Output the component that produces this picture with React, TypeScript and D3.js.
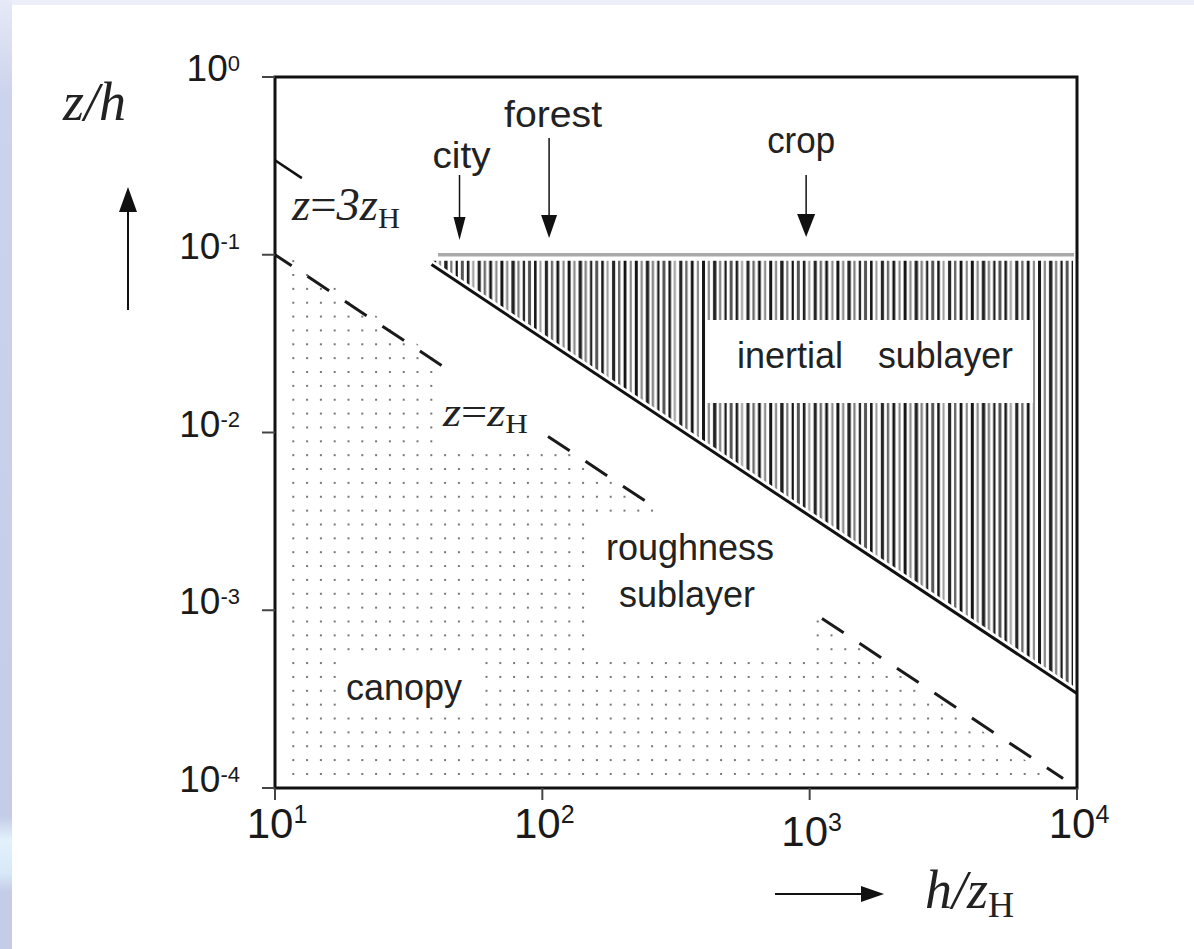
import React from 'react';
import * as d3 from 'd3';

// axes
const xDomain = [10, 10000];
const yDomain = [1, 0.0001];
const xTickValues = [10, 100, 1000, 10000];
const xTickExp = ['1', '2', '3', '4'];
const yTickValues = [1, 0.1, 0.01, 0.001, 0.0001];
const yTickExp = ['0', '-1', '-2', '-3', '-4'];

// surface types marked at the top (h/zH)
const markerNames = ['city', 'forest', 'crop'];
const markerValues = [49, 106, 970];

// z = 3 zH (solid) and z = zH (dashed, broken behind labels), read as [h/zH, z/h]
const line3zHUpper = [[10, 0.34], [12.6, 0.27]];
const line3zHMain = [[38.5, 0.088], [10000, 0.00034]];
const lineZHa = [[10, 0.1], [42, 0.0238]];
const lineZHb = [[105, 0.0095], [248, 0.00403]];
const lineZHc = [[1112, 0.0009], [8870, 0.000113]];
const inertialTop = 0.1;

const W = 1194;
const H = 949;
const SANS = '"Liberation Sans", Arial, sans-serif';
const SERIF = '"Liberation Serif", "Times New Roman", serif';

const x = d3.scaleLog().domain(xDomain).range([275, 1077]);
const y = d3.scaleLog().domain(yDomain).range([77, 788]);
const line = d3.line<number[]>().x(d => x(d[0])).y(d => y(d[1]));

export default function App() {
  // hatched inertial sublayer: from just below z/h=0.1 down to the solid line
  const p1 = [x(line3zHMain[0][0]), y(line3zHMain[0][1])];
  const p2 = [x(line3zHMain[1][0]), y(line3zHMain[1][1])];
  const slope = (p2[1] - p1[1]) / (p2[0] - p1[0]);
  const hatchTop = y(inertialTop) + 6;
  const gap = 5;
  const hx0 = p1[0] + (hatchTop + gap - p1[1]) / slope;
  const hx1 = 1073;
  const hy1 = p1[1] + (hx1 - p1[0]) * slope - gap;
  const hatchPoly = `${hx0},${hatchTop} ${hx1},${hatchTop} ${hx1},${hy1}`;

  // canopy dots: below the z=zH line
  const dA = [x(lineZHa[0][0]), y(lineZHa[0][1])];
  const dB = [x(lineZHc[1][0]), y(lineZHc[1][1])];
  const dotPoly = `${dA[0] + 12},${dA[1]} ${dB[0] - 8},${dB[1] + 2} ${dB[0] - 8},780 ${dA[0] + 12},780`;

  // barcode-like hatch tile
  const stripes = [
    [0, 3, '#151515'], [5.6, 2.4, '#8e8e8e'], [11, 3.4, '#202020'],
    [17, 2.2, '#7a7a7a'], [22.4, 2.2, '#151515'], [27.6, 3, '#555'],
    [33.6, 2.6, '#1a1a1a'], [39, 2, '#999'], [44.4, 3.2, '#262626'],
    [50.4, 2.4, '#6a6a6a'], [56, 2.8, '#111'], [62, 2.2, '#8a8a8a'],
  ];

  return (
    <svg width={W} height={H} style={{ position: 'absolute', left: 0, top: 0 }}>
      <defs>
        <linearGradient id="edge" x1="0" y1="0" x2="0" y2="1">
          <stop offset="0" stopColor="#e6e9f7" />
          <stop offset="0.1" stopColor="#ccd3ec" />
          <stop offset="0.86" stopColor="#c4cce8" />
          <stop offset="0.885" stopColor="#e2f1fb" />
          <stop offset="0.92" stopColor="#d8e8f8" />
          <stop offset="0.94" stopColor="#c4cce8" />
          <stop offset="1" stopColor="#c4cce8" />
        </linearGradient>
        <pattern id="hatch" patternUnits="userSpaceOnUse" x={hx0} y={0} width={67.2} height={10}>
          {stripes.map((s, i) => (
            <rect key={i} x={s[0] as number} y={0} width={s[1] as number} height={10} fill={s[2] as string} />
          ))}
        </pattern>
        <pattern id="dots" patternUnits="userSpaceOnUse" x={292.3} y={274} width={13.8} height={13.86}>
          <rect x={0} y={0} width={2} height={2} fill="#777" />
        </pattern>
      </defs>

      <rect width={W} height={H} fill="#fff" />
      <rect x={12} y={0} width={W - 12} height={5} fill="#eceef9" />
      <rect x={0} y={0} width={12} height={H} fill="url(#edge)" />

      {/* canopy dots with label knockouts */}
      <polygon points={dotPoly} fill="url(#dots)" />
      <rect x={438} y={318} width={160} height={132} fill="#fff" />
      <rect x={592} y={518} width={220} height={142} fill="#fff" />
      <rect x={338} y={656} width={140} height={50} fill="#fff" />

      {/* inertial sublayer */}
      <polygon points={hatchPoly} fill="url(#hatch)" />
      <line x1={438} x2={1074} y1={y(inertialTop)} y2={y(inertialTop)} stroke="#aaa" strokeWidth={3.5} />
      <rect x={707} y={320} width={326} height={83} fill="#fff" />

      {/* lines */}
      <path d={line(line3zHUpper) || ''} fill="none" stroke="#111" strokeWidth={2.6} />
      <path d={line(line3zHMain) || ''} fill="none" stroke="#111" strokeWidth={3} />
      <path d={line(lineZHa) || ''} fill="none" stroke="#1a1a1a" strokeWidth={3}
        strokeDasharray="26 19" strokeDashoffset={6} />
      <path d={line(lineZHb) || ''} fill="none" stroke="#1a1a1a" strokeWidth={3}
        strokeDasharray="26 19" />
      <path d={line(lineZHc) || ''} fill="none" stroke="#1a1a1a" strokeWidth={3}
        strokeDasharray="26 19" />

      {/* frame and ticks */}
      <rect x={275} y={77} width={802} height={711} fill="none" stroke="#111" strokeWidth={3} />
      {yTickValues.map((v, i) => (
        <line key={'yt' + i} x1={262} x2={275} y1={y(v)} y2={y(v)} stroke="#444" strokeWidth={2} />
      ))}
      {xTickValues.map((v, i) => (
        <line key={'xt' + i} x1={x(v)} x2={x(v)} y1={788} y2={800} stroke="#444" strokeWidth={2} />
      ))}

      {/* tick labels */}
      {yTickValues.map((v, i) => (
        <text key={'yl' + i} x={240} y={y(v) + 4} textAnchor="end" fontFamily={SANS} fontSize={37} fill="#1a1a1a">
          <tspan>10</tspan>
          <tspan dy={-10} fontSize={22}>{yTickExp[i]}</tspan>
        </text>
      ))}
      {xTickValues.map((v, i) => (
        <text key={'xl' + i} x={x(v) + 2} y={i === 2 ? 846 : 838} textAnchor="middle" fontFamily={SANS} fontSize={42} fill="#1a1a1a">
          <tspan>10</tspan>
          <tspan dy={-15} fontSize={25}>{xTickExp[i]}</tspan>
        </text>
      ))}

      {/* markers */}
      {markerNames.map((name, i) => {
        const mx = x(markerValues[i]);
        const top = [175, 138, 175][i];
        const labelY = [168, 127, 153][i];
        const hw = [6, 8, 9][i];
        const tip = [240, 238, 237][i];
        return (
          <g key={name}>
            <line x1={mx} x2={mx} y1={top} y2={tip - 18} stroke="#111" strokeWidth={1.5} />
            <path d={`M${mx - hw},${tip - 23}L${mx + hw},${tip - 23}L${mx},${tip}Z`} fill="#111" />
            <text x={mx + [2, 4, -5][i]} y={labelY} textAnchor="middle" fontFamily={SANS} fontSize={36} fill="#222"
              textLength={[58, 98, 68][i]} lengthAdjust="spacingAndGlyphs">{name}</text>
          </g>
        );
      })}

      {/* region labels */}
      <text x={737} y={368} fontFamily={SANS} fontSize={36} fill="#222">inertial</text>
      <text x={878} y={368} fontFamily={SANS} fontSize={36} fill="#222" textLength={135} lengthAdjust="spacingAndGlyphs">sublayer</text>
      <text x={690} y={560} textAnchor="middle" fontFamily={SANS} fontSize={36} fill="#222">roughness</text>
      <text x={687} y={607} textAnchor="middle" fontFamily={SANS} fontSize={36} fill="#222">sublayer</text>
      <text x={346} y={700} fontFamily={SANS} fontSize={36} fill="#222">canopy</text>

      {/* line labels */}
      <text x={292} y={220} fontFamily={SERIF} fontSize={46} fill="#222" textLength={108} lengthAdjust="spacingAndGlyphs">
        <tspan fontStyle="italic">z</tspan>
        <tspan>=</tspan>
        <tspan fontStyle="italic">3z</tspan>
        <tspan fontSize={30} dy={8}>H</tspan>
      </text>
      <text x={443} y={426} fontFamily={SERIF} fontSize={40} fill="#222" textLength={85} lengthAdjust="spacingAndGlyphs">
        <tspan fontStyle="italic">z</tspan>
        <tspan>=</tspan>
        <tspan fontStyle="italic">z</tspan>
        <tspan fontSize={27} dy={7}>H</tspan>
      </text>

      {/* axis titles */}
      <text x={63} y={120} fontFamily={SERIF} fontSize={54} fontStyle="italic" fill="#222">z/h</text>
      <line x1={128} x2={128} y1={310} y2={205} stroke="#111" strokeWidth={2} />
      <path d="M119,212L137,212L128,187Z" fill="#111" />

      <line x1={775} x2={865} y1={894} y2={894} stroke="#111" strokeWidth={2} />
      <path d="M861,886L861,902L884,894Z" fill="#111" />
      <text x={925} y={908} fontFamily={SERIF} fontSize={54} fill="#222">
        <tspan fontStyle="italic">h/z</tspan>
        <tspan fontSize={36} dy={9}>H</tspan>
      </text>
    </svg>
  );
}
